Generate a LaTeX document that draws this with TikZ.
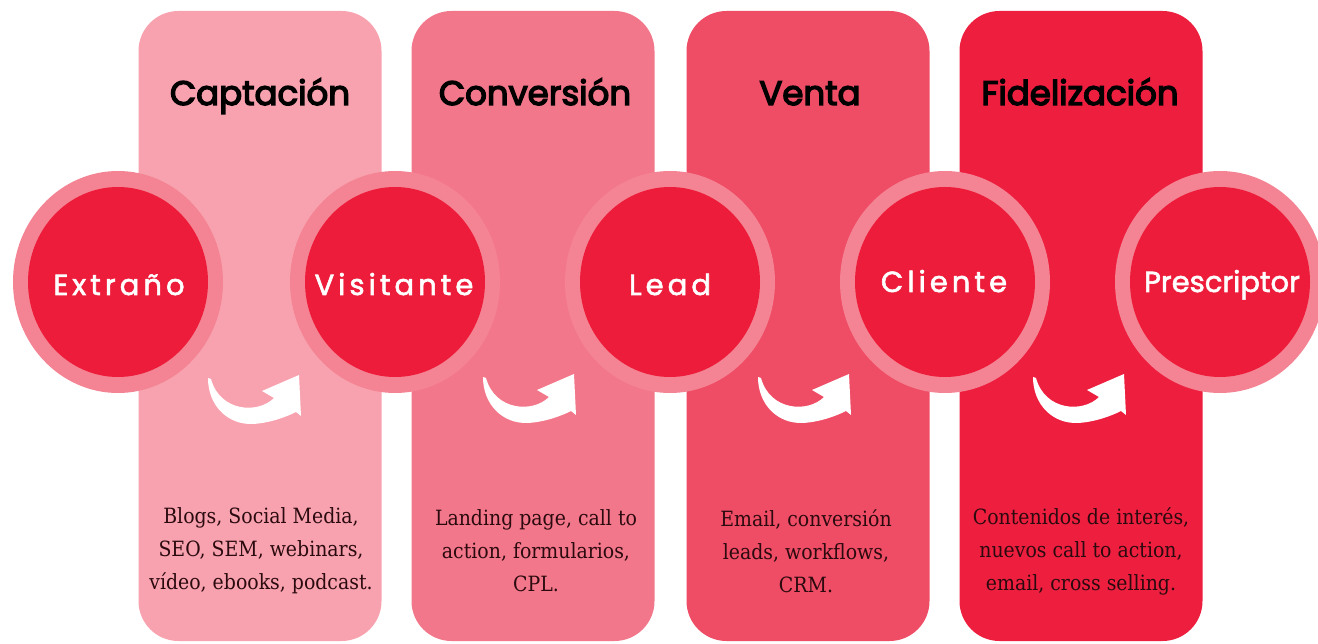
\documentclass[tikz,border=0pt]{standalone}
\usepackage{fontspec}
\setmainfont{Poppins}
\newfontfamily\headfont{Poppins}[FakeBold=4]
\newfontfamily\circfont{Poppins}[LetterSpace=14,FakeBold=2]
\newfontfamily\circtight{Poppins}[FakeBold=2]
\newfontfamily\bodyfont{DejaVu Serif}[FakeStretch=0.9]
\usetikzlibrary{shapes.geometric}
\definecolor{colA}{HTML}{F8A2AF}
\definecolor{colB}{HTML}{F3778A}
\definecolor{colC}{HTML}{EF4C65}
\definecolor{colD}{HTML}{EE1E3F}
\definecolor{ringc}{HTML}{F48493}
\definecolor{innerc}{HTML}{EE1C3B}
\definecolor{bodyc}{HTML}{2B0A0F}
\tikzset{
  colbox/.style={draw=none, rounded corners=40pt, minimum width=243pt, minimum height=630pt, inner sep=0pt},
  head/.style={anchor=base, text=black, font=\headfont\fontsize{34}{38}\selectfont},
  ringnode/.style={ellipse, fill=ringc, minimum width=210pt, minimum height=222pt, inner sep=0pt},
  innernode/.style={ellipse, fill=innerc, minimum width=180pt, minimum height=190pt, inner sep=0pt},
  clabel/.style={anchor=base, text=white, font=\circfont\fontsize{29}{32}\selectfont},
  body/.style={align=center, text=bodyc, font=\bodyfont\fontsize{21}{33}\selectfont, inner sep=0pt},
  swoosh/.pic={
    \fill[white] (0,0) .. controls (0,28) and (20,47) .. (45,46)
      .. controls (62,45) and (78,39) .. (88,34)
      -- (93,38) -- (91,-3) -- (54,13) -- (66,20)
      .. controls (50,36) and (12,34) .. (3,1) -- cycle;
  }
}
\begin{document}
\begin{tikzpicture}[x=1pt,y=-1pt]
\useasboundingbox (0,0) rectangle (1318,644);
\fill[white] (0,0) rectangle (1318,644);
% columns
\node[colbox, fill=colA] (c1) at (260,326) {};
\node[colbox, fill=colB] (c2) at (533,326) {};
\node[colbox, fill=colC] (c3) at (808,326) {};
\node[colbox, fill=colD] (c4) at (1081,326) {};
% headings
\node[head] (h1) at (260,105) {Captación};
\node[head] (h2) at (535,105) {Conversión};
\node[head] (h3) at (810,105) {Venta};
\node[head] (h4) at (1080,105) {Fidelización};
% circles
\node[ringnode] (r1) at (118,282) {};
\node[ringnode] (r2) at (395,282) {};
\node[ringnode] (r3) at (670,282) {};
\node[ringnode] (r4) at (945,282) {};
\node[ringnode] (r5) at (1220,282) {};
\node[innernode] (n1) at (118,282) {};
\node[innernode] (n2) at (395,282) {};
\node[innernode] (n3) at (670,282) {};
\node[innernode] (n4) at (945,282) {};
\node[innernode] (n5) at (1220,282) {};
\node[clabel] (t1) at (119,295) {Extraño};
\node[clabel] (t2) at (394,295) {Visitante};
\node[clabel] (t3) at (670,295) {Lead};
\node[clabel] (t4) at (944,292) {Cliente};
\node[clabel, font=\circtight\fontsize{29}{32}\selectfont] (t5) at (1222,292) {Prescriptor};
% arrows
\coordinate (a1) at (208,378);
\coordinate (a2) at (483,377);
\coordinate (a3) at (758,377);
\coordinate (a4) at (1033,377);
\pic at (a1) {swoosh};
\pic at (a2) {swoosh};
\pic at (a3) {swoosh};
\pic at (a4) {swoosh};
% bottom texts
\node[body] (b1) at (261,551) {Blogs, Social Media,\\SEO, SEM, webinars,\\vídeo, ebooks, podcast.};
\node[body] (b2) at (536,551) {Landing page, call to\\action, formularios,\\CPL.};
\node[body] (b3) at (806,551) {Email, conversión\\leads, workflows,\\CRM.};
\node[body] (b4) at (1081,551) {Contenidos de interés,\\nuevos call to action,\\email, cross selling.};
\end{tikzpicture}
\end{document}
